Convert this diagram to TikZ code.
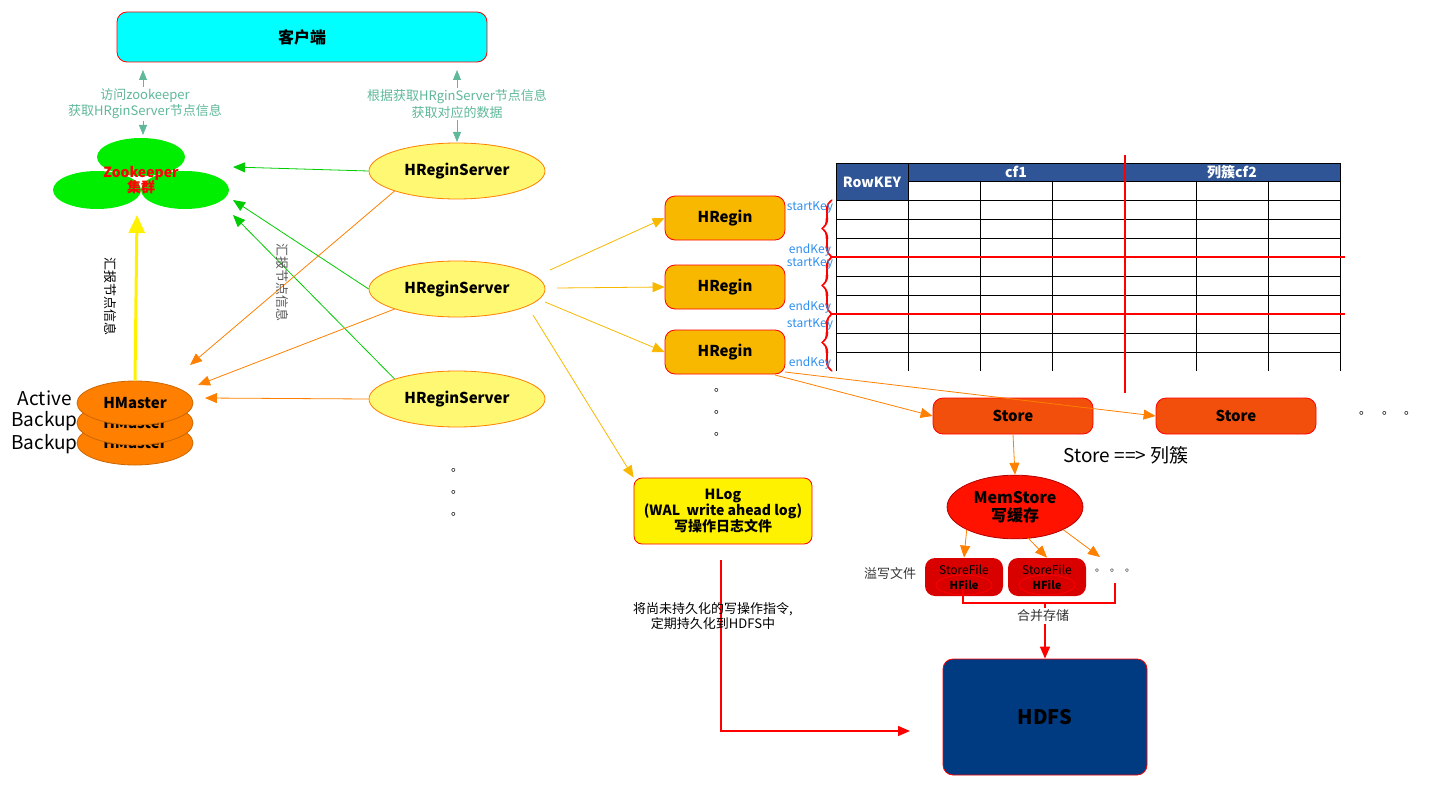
\documentclass[tikz,border=0pt]{standalone}
\usepackage{fontspec}
\setmainfont{Noto Sans CJK SC}
\usetikzlibrary{arrows.meta,shapes.geometric,decorations.pathreplacing,calligraphy}
\definecolor{tealtxt}{HTML}{5FB89A}
\definecolor{gold}{HTML}{F8B800}
\definecolor{storeor}{HTML}{F24E0C}
\definecolor{tblue}{HTML}{2F5597}
\definecolor{hdfsblue}{HTML}{003A80}
\definecolor{keyblue}{HTML}{2F8FEF}
\definecolor{clientcyan}{HTML}{00FFFF}
\definecolor{zkgreen}{HTML}{00EE00}
\definecolor{mastor}{HTML}{FF8000}
\tikzset{
  px/.style={x=0.5pt,y=-0.5pt},
  fs/.style={font=\fontsize{#1}{#1}\selectfont},
  server/.style={ellipse,draw=orange,fill=yellow!55,minimum width=88pt,minimum height=28pt,font=\fontsize{7.5}{8}\bfseries\selectfont},
  region/.style={rounded corners=5pt,draw=red,fill=gold,minimum width=60pt,minimum height=22pt,font=\fontsize{7.5}{8}\bfseries\selectfont},
  store/.style={rounded corners=5pt,draw=red,fill=storeor,minimum width=80pt,minimum height=18pt,font=\fontsize{7.5}{8}\bfseries\selectfont},
  master/.style={ellipse,draw=mastor!80!black,fill=mastor,minimum width=58pt,minimum height=22pt,font=\fontsize{7.5}{8}\bfseries\selectfont},
  zk/.style={ellipse,fill=zkgreen,minimum width=44pt,minimum height=19pt},
  garrow/.style={-{Triangle[length=6pt,width=5pt]},green!80!black,thin},
  oarrow/.style={-{Triangle[length=6pt,width=5pt]},orange,thin},
  yarrow/.style={-{Triangle[length=6pt,width=5pt]},gold,thin},
  rarrow/.style={-{Triangle[length=6pt,width=5pt]},red,thick},
  dots/.style={fs=6},
  keytxt/.style={keyblue,fs=6,inner sep=0pt},
}
\begin{document}
\begin{tikzpicture}[px]
\useasboundingbox (0,0) rectangle (1434,792);
% client
\node[draw=red,fill=clientcyan,rounded corners=5pt,minimum width=185pt,minimum height=25pt,font=\fontsize{8}{9}\bfseries\selectfont] (client) at (302,37) {客户端};
\coordinate (c1) at (143,70); \coordinate (c2) at (457,70);
\coordinate (z1) at (143,135); \coordinate (s1) at (457,142);
\draw[{Triangle[length=5pt,width=4pt]}-{Triangle[length=5pt,width=4pt]},tealtxt] (c1) -- (z1);
\draw[{Triangle[length=5pt,width=4pt]}-{Triangle[length=5pt,width=4pt]},tealtxt] (c2) -- (s1);
\node[tealtxt,fill=white,align=center,fs=6.5,inner sep=1pt] (lab1) at (145,104) {访问zookeeper\\获取HRginServer节点信息};
\node[tealtxt,fill=white,align=center,fs=6.5,inner sep=1pt] (lab2) at (457,104) {根据获取HRginServer节点信息\\获取对应的数据};
% zookeeper
\node[zk] (zkt) at (141,157) {};
\node[zk] (zkl) at (97,190) {};
\node[zk] (zkr) at (185,190) {};
\node[red,align=center,font=\fontsize{7}{7.5}\bfseries\selectfont] (zk) at (141,180) {Zookeeper\\集群};
% masters
\node[master] (m3) at (135,443) {HMaster};
\node[master] (m2) at (135,423) {HMaster};
\node[master] (m1) at (135,403) {HMaster};
\node[fs=9.5,anchor=east,inner sep=0pt] (act) at (72,398) {Active};
\node[fs=9.5,anchor=east,inner sep=0pt] (bk1) at (78,421) {Backup};
\node[fs=9.5,anchor=east,inner sep=0pt] (bk2) at (78,444) {Backup};
\draw[-{Triangle[length=9pt,width=8pt]},yellow,line width=1.5pt] (m1.north) -- (137,215);
\node[rotate=-90,fs=6.5] (rep1) at (110,296) {汇报节点信息};
% servers
\node[server] (hs1) at (457,171) {HReginServer};
\node[server] (hs2) at (457,289) {HReginServer};
\node[server] (hs3) at (457,399) {HReginServer};
\draw[garrow] (hs1.west) -- (233,167);
\draw[garrow] (hs2.west) -- (233,200);
\draw[garrow] (hs3.north west) -- (233,215);
\draw[oarrow] (hs1.south west) -- (190,365);
\draw[oarrow] (hs2.south west) -- (198,385);
\draw[oarrow] (hs3.west) -- (205,398);
\node[rotate=-90,fs=6.5,black!65] (rep2) at (282,282) {汇报节点信息};
\foreach \y in {470,492,514} \node[dots] at (457,\y) {。};
% regions
\node[region] (r1) at (725,218) {HRegin};
\node[region] (r2) at (725,287) {HRegin};
\node[region] (r3) at (725,352) {HRegin};
\draw[yarrow] (550,270) -- (r1.west);
\draw[yarrow] (557,288) -- (r2.west);
\draw[yarrow] (545,302) -- (r3.west);
\foreach \y in {390,412,434} \node[dots] at (720,\y) {。};
% hlog
\node[draw=red,fill=yellow,rounded corners=4pt,minimum width=89pt,minimum height=33pt,align=center,font=\fontsize{7}{8}\bfseries\selectfont] (hlog) at (723,511) {HLog\\(WAL\ \ write ahead log)\\写操作日志文件};
\draw[yarrow] (533,315) -- (hlog.north west);
% table
\fill[tblue] (836,163) rectangle (1340,181);
\fill[tblue] (836,181) rectangle (908,200);
\foreach \y in {181,200,219,238,257,276,295,314,333,352} \draw (908,\y) -- (1340,\y);
\foreach \y in {200,219,238,257,276,295,314,333,352} \draw (836,\y) -- (908,\y);
\draw (836,163) -- (1340,163);
\foreach \x in {836,908,980,1052,1124,1196,1268,1340} \draw (\x,181) -- (\x,371);
\foreach \x in {836,908,1340} \draw (\x,163) -- (\x,181);
\node[white,font=\fontsize{7}{8}\bfseries\selectfont] (rk) at (872,182) {RowKEY};
\node[white,font=\fontsize{7}{8}\bfseries\selectfont] (cf1) at (1016,172) {cf1};
\node[white,font=\fontsize{7}{8}\bfseries\selectfont] (cf2) at (1232,172) {列簇cf2};
\draw[red,line width=0.8pt] (1125,155) -- (1125,393);
\draw[red,line width=0.8pt] (830,257) -- (1345,257);
\draw[red,line width=0.8pt] (830,314) -- (1345,314);
\foreach \a/\b in {200/257,257/314,314/371}
  \draw[red,line width=1.3pt,decorate,decoration={calligraphic brace,amplitude=5pt,mirror},pen colour=red] (832,\a) -- (832,\b);
\foreach \a/\b in {208/250,264/307,325/363}{
  \node[keytxt] at (810,\a) {startKey};
  \node[keytxt] at (810,\b) {endKey};}
% stores
\node[store] (st1) at (1013,416) {Store};
\node[store] (st2) at (1236,416) {Store};
\draw[oarrow] (775,375) -- (st1.west);
\draw[oarrow] (785,372) -- (st2.west);
\foreach \x in {1365,1388,1410} \node[dots] at (\x,413) {。};
\node[fs=9.5] (eq) at (1126,455) {Store ==> 列簇};
\node[ellipse,draw=red!70!black,fill=red!85!orange,minimum width=65pt,minimum height=30pt,align=center,font=\fontsize{8}{9}\bfseries\selectfont] (mem) at (1015,507) {MemStore\\写缓存};
\draw[oarrow] (st1.south) -- (mem.north);
\node[rounded corners=5pt,fill=red!85!black,minimum width=39pt,minimum height=19pt] (sf1) at (964,577) {};
\node[rounded corners=5pt,fill=red!85!black,minimum width=39pt,minimum height=19pt] (sf2) at (1047,577) {};
\foreach \s in {sf1,sf2}{
  \draw[red] ([yshift=-4pt]\s.center) ellipse (14pt and 5pt);
  \node[fs=6] at ([yshift=3.5pt]\s.center) {StoreFile};
  \node[font=\fontsize{5.5}{6}\bfseries\selectfont] at ([yshift=-4pt]\s.center) {HFile};}
\coordinate (more) at (1100,557);
\draw[oarrow] (mem.south west) -- (sf1.north);
\draw[oarrow] (1028,538) -- (sf2.north);
\draw[oarrow] (mem.south east) -- (more);
\foreach \x in {1100,1115,1130} \node[fs=5] at (\x,571) {。};
\node[fs=6.5,black!80] (spill) at (890,574) {溢写文件};
\draw[red,line width=1pt] (963,590) -- (963,603) -- (1115,603) -- (1115,583);
% hdfs
\node[draw=red,fill=hdfsblue,rounded corners=5pt,minimum width=102pt,minimum height=58pt,font=\fontsize{10}{11}\bfseries\selectfont] (hdfs) at (1045,717) {HDFS};
\draw[rarrow] (1045,603) -- (hdfs.north);
\node[fs=6.5,black!80,fill=white,inner sep=1pt] (merge) at (1043,616) {合并存储};
\coordinate (logout) at (721,560);
\draw[rarrow] (logout) -- (721,731) -- (910,731);
\node[fs=6.5,align=center] (persist) at (713,616) {将尚未持久化的写操作指令,\\定期持久化到HDFS中};
\end{tikzpicture}
\end{document}
